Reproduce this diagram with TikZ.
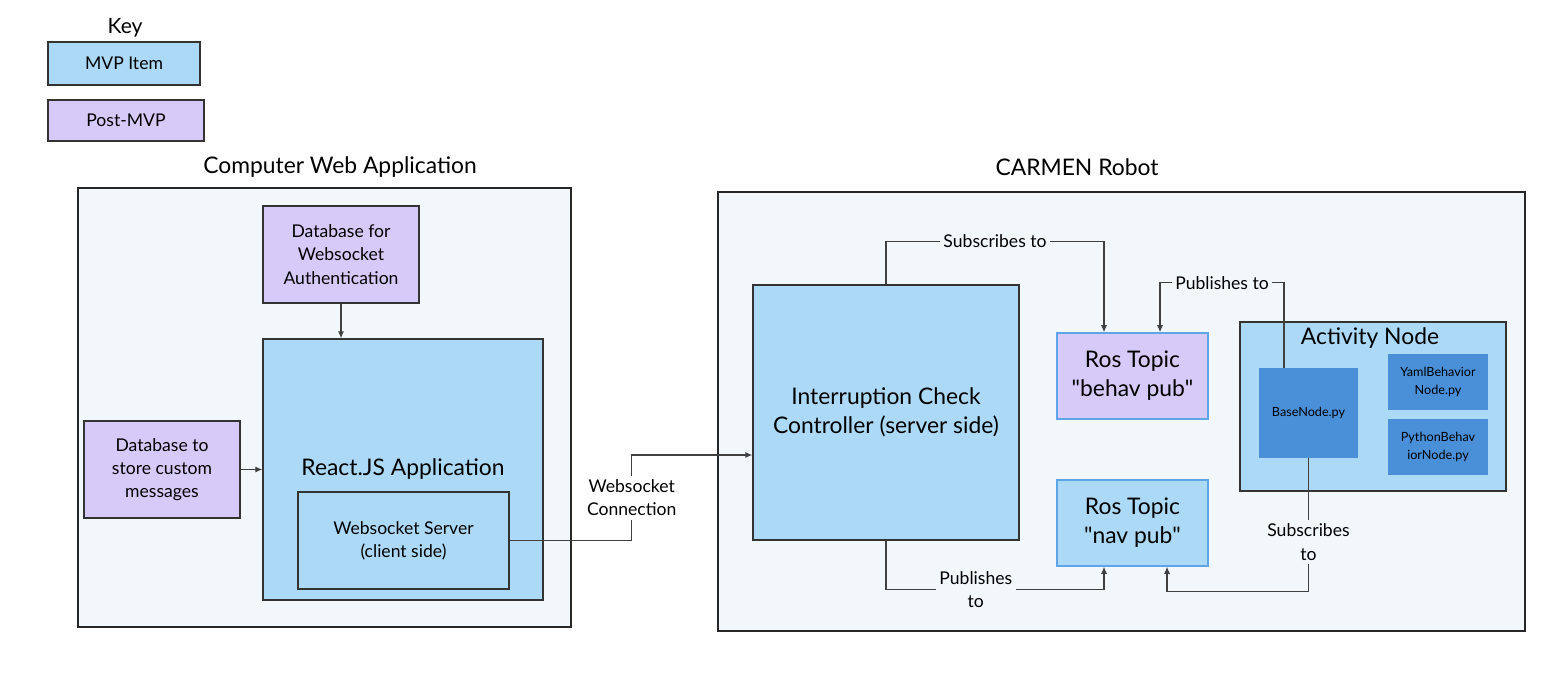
\documentclass[tikz,border=0pt]{standalone}
\usepackage{fontspec}
\setmainfont{Lato}
\usetikzlibrary{arrows.meta,positioning,calc}
\definecolor{mvpblue}{HTML}{ACD9F5}
\definecolor{postpurple}{HTML}{D6CBF8}
\definecolor{groupbg}{HTML}{F2F7FB}
\definecolor{pyblue}{HTML}{4A90D9}
\definecolor{topicline}{HTML}{5EA5E8}
\newcommand\titletxt{\fontsize{13}{16.5}\selectfont}
\newcommand\boxtxt{\fontsize{10}{13.3}\selectfont}
\newcommand\pytxt{\fontsize{7.2}{10}\selectfont}

\begin{document}
\begin{tikzpicture}[x=0.02cm,y=-0.02cm,
  box/.style={draw=black!80,line width=0.8pt,align=center,inner sep=2pt,font=\boxtxt},
  mvp/.style={box,fill=mvpblue},
  post/.style={box,fill=postpurple},
  group/.style={draw=black!85,line width=0.9pt,fill=groupbg},
  topic/.style={draw=topicline,line width=0.9pt,align=center,font=\titletxt},
  pyfile/.style={fill=pyblue,align=center,inner sep=1pt,font=\pytxt},
  conn/.style={draw=black!75,line width=0.6pt},
  arr/.style={conn,-{Latex[length=4pt,width=3.5pt]}},
  lbl/.style={fill=groupbg,inner sep=2pt,align=center,font=\boxtxt},
  sz/.style 2 args={minimum width=#1*0.02cm,minimum height=#2*0.02cm}]
\useasboundingbox (0,0) rectangle (1568,674);

% key
\node[font=\fontsize{12}{14}\selectfont] (keylbl) at (125,28) {Key};
\node[mvp,sz={152}{43}] (keymvp) at (124,63.5) {MVP Item};
\node[post,sz={156}{41}] (keypost) at (126,120.5) {Post-MVP};

% computer web application
\node[font=\titletxt] (weblbl) at (340,167) {Computer Web Application};
\node[group,sz={493}{439}] (web) at (324.5,407.5) {};
\node[post,sz={156}{97}] (dbauth) at (341,254.5) {Database for\\Websocket\\Authentication};
\node[mvp,sz={280}{261},font=\titletxt] (react) at (403,469.5) {React.JS Application};
\node[mvp,sz={211}{97}] (wss) at (403.5,540.5) {Websocket Server\\(client side)};
\node[post,sz={156}{97}] (dbmsg) at (162,469.5) {Database to\\store custom\\messages};

% carmen robot
\node[font=\titletxt] (robotlbl) at (1077,167) {CARMEN Robot};
\node[group,sz={807}{439}] (robot) at (1121.5,411.5) {};
\node[mvp,sz={266}{255},font=\titletxt] (ctrl) at (886,412.5) {Interruption Check\\Controller (server side)};
\node[topic,fill=postpurple,sz={151}{86}] (behav) at (1132.5,376) {Ros Topic\\\textquotedbl behav pub\textquotedbl};
\node[topic,fill=mvpblue,sz={151}{86}] (nav) at (1132.5,523) {Ros Topic\\\textquotedbl nav pub\textquotedbl};
\node[mvp,sz={266}{169}] (activity) at (1373,406.5) {};
\node[font=\titletxt] (actlbl) at (1370,338) {Activity Node};
\node[pyfile,sz={99}{90}] (base) at (1308.5,413) {BaseNode.py};
\node[pyfile,sz={100}{56}] (yaml) at (1438,382) {YamlBehavior\\Node.py};
\node[pyfile,sz={100}{56}] (pybeh) at (1438,447) {PythonBehav\\iorNode.py};

% connections
\draw[arr] (dbauth.south) -- (dbauth.south |- react.north);
\draw[arr] (dbmsg.east) -- (dbmsg.east -| react.west);
\draw[arr] (wss.east) -- ++(122,0) |- node[lbl,fill=white,pos=0.25]{Websocket\\Connection} ($(ctrl.west)+(0,42.5)$);
\draw[arr] (ctrl.north) -- ++(0,-43) -| node[lbl,pos=0.25]{Subscribes to} ($(behav.north)+(-28.5,0)$);
\draw[arr] ($(base.north)+(-24.5,0)$) -- ++(0,-85) -| node[lbl,pos=0.25]{Publishes to} ($(behav.north)+(27.5,0)$);
\draw[arr] (ctrl.south) -- ++(0,49) -| node[lbl,pos=0.206]{Publishes\\to} ($(nav.south)+(-28.5,0)$);
\draw[arr] (base.south) -- node[lbl,pos=0.63]{Subscribes\\to} ++(0,133) -| ($(nav.south)+(34.5,0)$);
\end{tikzpicture}
\end{document}
